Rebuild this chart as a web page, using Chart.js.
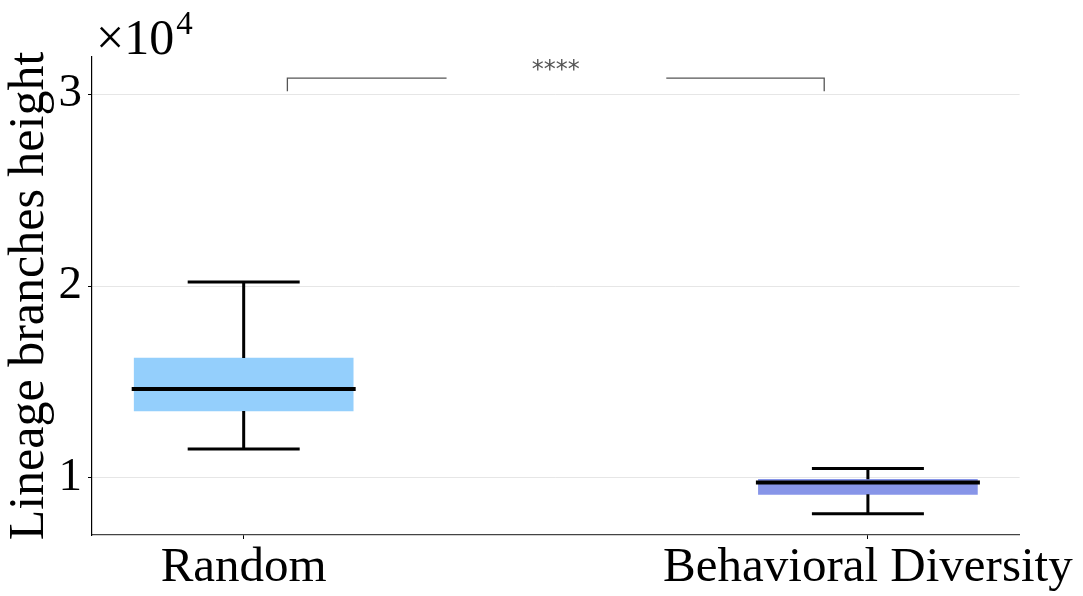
<!DOCTYPE html>
<html>
<head>
<meta charset="utf-8">
<script src="https://cdn.jsdelivr.net/npm/chart.js@4"></script>
<style>
  html, body { margin: 0; padding: 0; background: #fff; }
  #wrap { width: 1083px; height: 596px; position: relative; }
</style>
</head>
<body>
<div id="wrap"><canvas id="chart"></canvas></div>
<script>
// box plot values (raw units, axis shown as x10^4)
const categories = ['Random', 'Behavioral Diversity'];
const whiskerLow = [11510, 8140];
const q1 = [13490, 9150];
const median = [14640, 9760];
const q3 = [16250, 9930];
const whiskerHigh = [20210, 10500];
const yTicks = [10000, 20000, 30000];
const significance = '****';

const boxColors = ['#94cffc', '#8795e8'];
const SERIF = "'Liberation Serif', 'DejaVu Serif', serif";

// whiskers, medians, significance bracket and the x10^4 offset label
const boxPlotExtras = {
  id: 'boxPlotExtras',
  afterDatasetsDraw(chart) {
    const { ctx, chartArea, scales: { x, y } } = chart;
    ctx.save();
    ctx.strokeStyle = '#000';
    categories.forEach((c, i) => {
      const cx = x.getPixelForValue(i);
      const yHi = y.getPixelForValue(whiskerHigh[i]);
      const yLo = y.getPixelForValue(whiskerLow[i]);
      ctx.lineWidth = 3;
      ctx.beginPath();
      ctx.moveTo(cx, y.getPixelForValue(q3[i])); ctx.lineTo(cx, yHi);
      ctx.moveTo(cx, y.getPixelForValue(q1[i])); ctx.lineTo(cx, yLo);
      ctx.moveTo(cx - 56, yHi); ctx.lineTo(cx + 56, yHi);
      ctx.moveTo(cx - 56, yLo); ctx.lineTo(cx + 56, yLo);
      ctx.stroke();
      ctx.lineWidth = 4;
      const ym = y.getPixelForValue(median[i]);
      ctx.beginPath();
      ctx.moveTo(cx - 112, ym); ctx.lineTo(cx + 112, ym);
      ctx.stroke();
    });

    // significance bracket
    const bx0 = x.getPixelForValue(0.07), bx1 = x.getPixelForValue(0.93);
    const gx0 = x.getPixelForValue(0.325), gx1 = x.getPixelForValue(0.677);
    const by = y.getPixelForValue(30830), bb = y.getPixelForValue(30150);
    ctx.strokeStyle = '#555';
    ctx.lineWidth = 1.3;
    ctx.beginPath();
    ctx.moveTo(bx0, bb); ctx.lineTo(bx0, by); ctx.lineTo(gx0, by);
    ctx.moveTo(gx1, by); ctx.lineTo(bx1, by); ctx.lineTo(bx1, bb);
    ctx.stroke();
    ctx.fillStyle = '#555';
    ctx.font = "24px 'DejaVu Sans', sans-serif";
    ctx.textAlign = 'center';
    ctx.textBaseline = 'middle';
    ctx.fillText(significance, x.getPixelForValue(0.5), y.getPixelForValue(31200));

    // offset text
    ctx.fillStyle = '#000';
    ctx.textAlign = 'left';
    ctx.textBaseline = 'alphabetic';
    ctx.font = '50px ' + SERIF;
    const ox = chartArea.left + 4, oy = chartArea.top - 3;
    ctx.fillText('\u00d710', ox, oy);
    const w = ctx.measureText('\u00d710').width;
    ctx.font = '33px ' + SERIF;
    ctx.fillText('4', ox + w + 2, oy - 20);
    ctx.restore();
  }
};

new Chart(document.getElementById('chart'), {
  type: 'bar',
  data: {
    datasets: [{
      data: categories.map((c, i) => ({ x: i, y: [q1[i], q3[i]] })),
      backgroundColor: boxColors,
      borderWidth: 0,
      barThickness: 219
    }]
  },
  plugins: [boxPlotExtras],
  options: {
    responsive: true,
    maintainAspectRatio: false,
    animation: false,
    layout: { padding: { top: 57, right: 63, left: 0, bottom: 0 } },
    plugins: { legend: { display: false }, tooltip: { enabled: false } },
    scales: {
      x: {
        type: 'linear',
        offset: false,
        min: -0.243,
        max: 1.243,
        afterBuildTicks: s => { s.ticks = categories.map((c, i) => ({ value: i })); },
        afterFit: s => { s.height = 61; },
        ticks: {
          callback: v => categories[v],
          font: { family: SERIF, size: 49 },
          color: '#000',
          padding: 0,
          maxRotation: 0,
          autoSkip: false
        },
        grid: { offset: false, drawOnChartArea: false, tickLength: 4, tickColor: '#000' },
        border: { color: '#444', width: 1.2 }
      },
      y: {
        min: 7030,
        max: 31930,
        afterBuildTicks: s => { s.ticks = yTicks.map(v => ({ value: v })); },
        afterFit: s => { s.width = 92; },
        ticks: {
          callback: v => String(v / 10000),
          font: { family: SERIF, size: 47 },
          color: '#000',
          padding: 6
        },
        grid: { color: '#e6e6e6', lineWidth: 1, tickLength: 4, tickColor: '#000' },
        border: { color: '#000', width: 1.2 },
        title: {
          display: true,
          text: 'Lineage branches height',
          font: { family: SERIF, size: 50 },
          color: '#000',
          padding: { top: 0, bottom: 0 }
        }
      }
    }
  }
});
</script>
</body>
</html>
